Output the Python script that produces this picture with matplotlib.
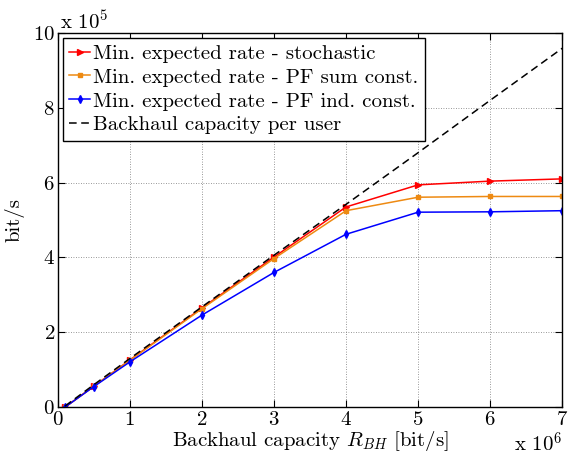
import numpy as np
import matplotlib.pyplot as plt

plt.rcParams['font.family'] = 'serif'
plt.rcParams['font.serif'] = ['cmr10']
plt.rcParams['mathtext.fontset'] = 'cm'
plt.rcParams['axes.formatter.use_mathtext'] = True

# backhaul capacity [bit/s]
r_bh = np.array([0.1, 0.5, 1, 2, 3, 4, 5, 6, 7]) * 1e6

# min. expected rate [bit/s]
rate_stoch = np.array([0.0, 0.56, 1.26, 2.65, 4.01, 5.35, 5.94, 6.04, 6.10]) * 1e5
rate_pf_sum = np.array([0.0, 0.56, 1.25, 2.63, 3.97, 5.25, 5.61, 5.63, 5.63]) * 1e5
rate_pf_ind = np.array([0.0, 0.55, 1.21, 2.46, 3.60, 4.62, 5.21, 5.22, 5.25]) * 1e5
cap_per_user = np.array([0.03, 0.60, 1.30, 2.68, 4.06, 5.42, 6.80, 8.20, 9.59]) * 1e5

fig = plt.figure(figsize=(5.72, 4.57), dpi=100)
ax = fig.add_axes([0.101, 0.109, 0.882, 0.819])

fs = 15
xs = r_bh / 1e6
ax.plot(xs, rate_stoch / 1e5, color='red', marker='>', ms=4, lw=1.1,
        label='Min. expected rate - stochastic')
ax.plot(xs, rate_pf_sum / 1e5, color='#ee8a12', marker='s', ms=3.5, lw=1.1,
        label='Min. expected rate - PF sum const.')
ax.plot(xs, rate_pf_ind / 1e5, color='blue', marker='d', ms=4, lw=1.1,
        label='Min. expected rate - PF ind. const.')
ax.plot(xs, cap_per_user / 1e5, color='black', ls=(0, (5, 3)), lw=1.1,
        label='Backhaul capacity per user')

ax.set_xlim(0, 7)
ax.set_ylim(0, 10)
ax.set_xticks(range(0, 8))
ax.set_yticks(range(0, 11, 2))
ax.tick_params(direction='in', top=True, right=True, labelsize=fs, length=5)
ax.tick_params(axis='x', pad=3)
ax.tick_params(axis='y', pad=2)
ax.grid(True, ls=(0, (1, 2)), color='#777777', lw=0.6)
for s in ax.spines.values():
    s.set_linewidth(1.0)

ax.set_xlabel(r'Backhaul capacity $R_{BH}$ [bit/s]', fontsize=fs, labelpad=0)
ax.set_ylabel('bit/s', fontsize=fs, labelpad=6)

ax.text(0.005, 1.0, r'x 10$^5$', transform=ax.transAxes, fontsize=fs,
        ha='left', va='bottom')
ax.text(1.0, -0.064, r'x 10$^6$', transform=ax.transAxes, fontsize=fs,
        ha='right', va='top')

leg = ax.legend(loc='upper left', fontsize=fs, fancybox=False, framealpha=1,
                edgecolor='black', handlelength=1.0, handletextpad=0.15,
                labelspacing=0.25, borderaxespad=0.25, borderpad=0.3)
leg.get_frame().set_linewidth(1.0)

fig.savefig('out.png', dpi=100)
